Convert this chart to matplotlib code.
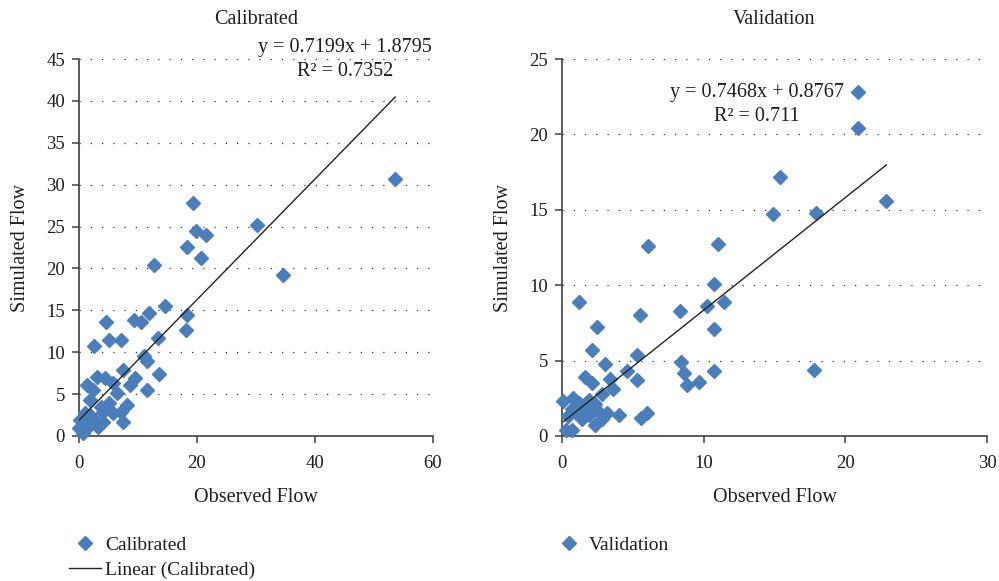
import matplotlib
matplotlib.use("Agg")
import matplotlib.pyplot as plt
from matplotlib.lines import Line2D
import numpy as np

plt.rcParams['font.family'] = ['Liberation Serif', 'DejaVu Serif']

# ---------------- data ----------------
cal_x = [53.6, 34.6, 30.1, 19.4, 19.8, 21.6, 18.3, 20.7, 12.7, 14.5, 18.3, 11.9,
         9.4, 10.5, 4.5, 18.1, 13.4, 5.1, 7.1, 2.5, 11.0, 11.6, 11.6, 13.6,
         7.5, 9.5, 8.6, 1.3, 3.0, 4.4, 5.8, 1.9, 2.4, 5.0, 8.1, 7.2, 7.4, 5.8,
         4.1, 4.1, 2.7, 1.0, 0.2, 0.0, 0.7, 1.9, 1.0, 3.3, 1.9, 3.8, 6.4]
cal_y = [30.7, 19.2, 25.2, 27.8, 24.5, 24.0, 22.6, 21.3, 20.4, 15.5, 14.4, 14.7,
         13.9, 13.6, 13.6, 12.6, 11.7, 11.4, 11.4, 10.7, 9.6, 8.9, 5.5, 7.4,
         7.9, 6.9, 6.1, 6.1, 7.1, 6.9, 6.3, 4.3, 5.5, 3.9, 3.7, 2.9, 1.7, 2.7,
         2.9, 1.7, 1.9, 2.7, 1.9, 0.9, 0.3, 1.3, 1.3, 1.1, 2.5, 3.5, 5.1]

val_x = [20.9, 20.9, 15.4, 14.9, 17.9, 22.9, 11.0, 6.1,
         1.2, 5.5, 2.5, 8.3, 10.2, 11.4, 10.7, 10.7, 2.1, 5.3,
         8.4, 8.6, 8.8, 9.7, 10.7, 17.8,
         3.0, 4.6, 5.3, 1.6, 2.1, 3.4, 3.6, 2.8, 0.1, 0.8, 1.2, 1.9, 2.3,
         4.0, 5.6, 6.0, 0.4, 1.0, 1.9, 2.6, 3.2, 2.3, 2.8, 0.3, 0.7, 1.4,
         1.7, 0.7]
val_y = [22.8, 20.4, 17.2, 14.7, 14.8, 15.6, 12.7, 12.6,
         8.9, 8.0, 7.2, 8.3, 8.6, 8.9, 10.1, 7.1, 5.7, 5.4,
         4.9, 4.2, 3.4, 3.6, 4.3, 4.4,
         4.8, 4.3, 3.7, 3.9, 3.5, 3.8, 3.1, 2.8, 2.3, 2.5, 2.2, 2.4, 2.1,
         1.4, 1.2, 1.5, 1.3, 1.5, 1.4, 1.6, 1.5, 0.7, 1.1, 0.4, 0.4, 1.1,
         1.7, 1.8]

cal_slope, cal_icpt, cal_r2 = 0.7199, 1.8795, 0.7352
val_slope, val_icpt, val_r2 = 0.7468, 0.8767, 0.711

cal_xticks = [0, 20, 40, 60]
cal_yticks = [0, 5, 10, 15, 20, 25, 30, 35, 40, 45]
val_xticks = [0, 10, 20, 30]
val_yticks = [0, 5, 10, 15, 20, 25]

# ---------------- style ----------------
W, H = 999, 581
fig = plt.figure(figsize=(W / 100, H / 100), dpi=100)
blue = '#4a7ebb'
axcol = '#404040'
txt = '#1e1e1e'
fs_tick = 13.5
fs = 14.5
fs_leg = 14


def px_axes(l, t, r, b):
    return fig.add_axes([l / W, 1 - b / H, (r - l) / W, (b - t) / H])


def style(ax, xticks, yticks):
    ax.set_xlim(xticks[0], xticks[-1])
    ax.set_ylim(yticks[0], yticks[-1])
    ax.set_xticks(xticks)
    ax.set_yticks(yticks)
    for s in ['top', 'right']:
        ax.spines[s].set_visible(False)
    for s in ['left', 'bottom']:
        ax.spines[s].set_color(axcol)
        ax.spines[s].set_linewidth(1.2)
    ax.tick_params(direction='out', length=5, width=1.1, color=axcol,
                   labelsize=fs_tick, labelcolor=txt, pad=5)
    ax.tick_params(axis='x', pad=9)
    for yv in yticks[1:]:
        ax.axhline(yv, color='#333333', lw=0.9, ls=(0, (1, 8)), zorder=0)
    ax.set_xlabel('Observed Flow', fontsize=fs, color=txt, labelpad=11)
    ax.set_ylabel('Simulated Flow', fontsize=fs, color=txt, labelpad=12)


ax1 = px_axes(79, 59, 433, 436)
style(ax1, cal_xticks, cal_yticks)
ax1.plot(cal_x, cal_y, 'D', color=blue, ms=7.0, mec=blue, zorder=3, clip_on=False)
lx = np.array([min(cal_x), max(cal_x)])
ax1.plot(lx, cal_slope * lx + cal_icpt, color='#222222', lw=1.0, zorder=4)
ax1.set_title('Calibrated', fontsize=fs, color=txt, pad=25)
ax1.text(0.751, 0.998, f'y = {cal_slope}x + {cal_icpt}\nR² = {cal_r2}',
         transform=ax1.transAxes, ha='center', va='center', fontsize=fs,
         color=txt, linespacing=1.35, multialignment='center')

ax2 = px_axes(562, 59, 987, 436)
style(ax2, val_xticks, val_yticks)
ax2.plot(val_x, val_y, 'D', color=blue, ms=7.0, mec=blue, zorder=3, clip_on=False)
lx2 = np.array([min(val_x), max(val_x)])
ax2.plot(lx2, val_slope * lx2 + val_icpt, color='#222222', lw=1.0, zorder=4)
ax2.set_title('Validation', fontsize=fs, color=txt, pad=25)
ax2.text(0.459, 0.879, f'y = {val_slope}x + {val_icpt}\nR² = {val_r2}',
         transform=ax2.transAxes, ha='center', va='center', fontsize=fs,
         color=txt, linespacing=1.35, multialignment='center')

# legends
h_cal = Line2D([], [], marker='D', ls='none', color=blue, ms=7.0)
h_lin = Line2D([], [], color='#222222', lw=1.0)
h_val = Line2D([], [], marker='D', ls='none', color=blue, ms=7.0)
kw = dict(loc='upper left', frameon=False, fontsize=fs_leg, handlelength=1.65,
          handletextpad=0.2, labelspacing=0.4, borderaxespad=0, borderpad=0)
leg1 = fig.legend([h_cal, h_lin], ['Calibrated', 'Linear (Calibrated)'],
                  bbox_to_anchor=(69 / W, 1 - 536 / H), **kw)
leg2 = fig.legend([h_val], ['Validation'],
                  bbox_to_anchor=(553 / W, 1 - 536 / H), **kw)
for lg in (leg1, leg2):
    for t in lg.get_texts():
        t.set_color(txt)

fig.savefig('out.png', dpi=100)
